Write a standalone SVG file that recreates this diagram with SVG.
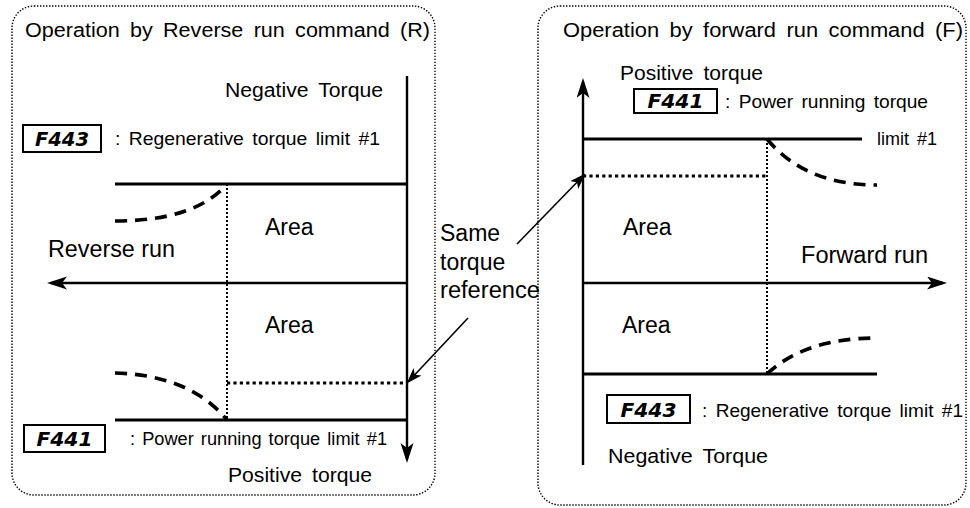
<svg xmlns="http://www.w3.org/2000/svg" width="970" height="508" viewBox="0 0 970 508">
<style>
text{font-family:"Liberation Sans",Arial,sans-serif;fill:#000}
.t19{font-size:20px;word-spacing:4px}
.t18{font-size:18.5px;word-spacing:3px}
.t17{font-size:18px;word-spacing:2px}
.t23{font-size:23px}
.code{font-family:"DejaVu Sans","Liberation Sans",sans-serif;font-size:20px;font-weight:bold;font-style:italic;text-anchor:middle}
.box{fill:#fff;stroke:#000;stroke-width:2}
.panel{fill:none;stroke:#000;stroke-width:1.4;stroke-dasharray:1.4 1.6}
.solid{stroke:#000;stroke-width:3.2;fill:none}
.axis{stroke:#000;stroke-width:2.4;fill:none}
.dash{stroke:#000;stroke-width:3.6;fill:none;stroke-dasharray:12 8}
.dot{stroke:#000;stroke-width:2;fill:none;stroke-dasharray:2 2}
.dotb{stroke:#000;stroke-width:3.2;fill:none;stroke-dasharray:3.2 3.2}
.thin{stroke:#000;stroke-width:1.6;fill:none}
</style>
<defs>
<marker id="ah" markerUnits="userSpaceOnUse" markerWidth="22" markerHeight="14" refX="16" refY="6.5" orient="auto">
<path d="M0,0 L20,6.5 L0,13 L5,6.5 z" fill="#000"/>
</marker>
<marker id="as" markerUnits="userSpaceOnUse" markerWidth="18" markerHeight="12" refX="14" refY="5.5" orient="auto">
<path d="M0,0 L16,5.5 L0,11 L4,5.5 z" fill="#000"/>
</marker>
</defs>

<g id="panel-reverse">
<rect class="panel" x="12" y="6" width="423" height="489" rx="22"/>
<text class="t19" x="25" y="37" textLength="405" lengthAdjust="spacingAndGlyphs">Operation by Reverse run command (R)</text>
<text class="t19" x="225" y="97" textLength="158" lengthAdjust="spacingAndGlyphs">Negative Torque</text>
<rect class="box" x="23" y="125" width="78" height="27"/>
<text class="code" x="62" y="146" textLength="54" lengthAdjust="spacingAndGlyphs">F443</text>
<text class="t18" x="115" y="145" textLength="265" lengthAdjust="spacingAndGlyphs">: Regenerative torque limit #1</text>
<text class="t23" x="265" y="235">Area</text>
<text class="t23" x="48" y="257" textLength="127" lengthAdjust="spacingAndGlyphs">Reverse run</text>
<text class="t23" x="265" y="333">Area</text>
<rect class="box" x="24" y="425" width="81" height="27"/>
<text class="code" x="64.5" y="446" textLength="56" lengthAdjust="spacingAndGlyphs">F441</text>
<text class="t17" x="130" y="445" textLength="257" lengthAdjust="spacingAndGlyphs">: Power running torque limit #1</text>
<text class="t19" x="228" y="482" textLength="144" lengthAdjust="spacingAndGlyphs">Positive torque</text>
</g>

<g id="panel-forward">
<rect class="panel" x="538" y="6" width="428" height="499" rx="22"/>
<text class="t19" x="563" y="37" textLength="400" lengthAdjust="spacingAndGlyphs">Operation by forward run command (F)</text>
<text class="t19" x="620" y="80" textLength="143" lengthAdjust="spacingAndGlyphs">Positive torque</text>
<rect class="box" x="634" y="89" width="83" height="24"/>
<text class="code" x="675.5" y="108" textLength="56" lengthAdjust="spacingAndGlyphs">F441</text>
<text class="t18" x="725" y="108" textLength="203" lengthAdjust="spacingAndGlyphs">: Power running torque</text>
<text class="t18" x="877" y="145" textLength="60" lengthAdjust="spacingAndGlyphs">limit #1</text>
<text class="t23" x="623" y="235">Area</text>
<text class="t23" x="801" y="263" textLength="127" lengthAdjust="spacingAndGlyphs">Forward run</text>
<text class="t23" x="622" y="333">Area</text>
<rect class="box" x="607" y="395" width="83" height="28"/>
<text class="code" x="648.5" y="417" textLength="56" lengthAdjust="spacingAndGlyphs">F443</text>
<text class="t18" x="702" y="417" textLength="261" lengthAdjust="spacingAndGlyphs">: Regenerative torque limit #1</text>
<text class="t19" x="608" y="463" textLength="160" lengthAdjust="spacingAndGlyphs">Negative Torque</text>
</g>

<g id="label-same">
<text class="t23" x="440" y="241">Same</text>
<text class="t23" x="440" y="270">torque</text>
<text class="t23" x="440" y="298" textLength="100" lengthAdjust="spacingAndGlyphs">reference</text>
</g>

<g id="connectors">
<line class="axis" x1="407" y1="76" x2="407" y2="459" marker-end="url(#ah)"/>
<line class="axis" x1="407" y1="283" x2="51" y2="283" marker-end="url(#ah)"/>
<line class="solid" x1="115" y1="184" x2="407" y2="184"/>
<line class="solid" x1="115" y1="420" x2="407" y2="420"/>
<path class="dash" d="M115,221 Q195,221 227,184"/>
<path class="dash" d="M115,373 Q190,375 227,420"/>
<line class="dot" x1="227" y1="184" x2="227" y2="420"/>
<line class="dotb" x1="227" y1="383" x2="407" y2="383"/>
<line class="axis" x1="583" y1="465" x2="583" y2="82" marker-end="url(#ah)"/>
<line class="axis" x1="583" y1="283" x2="943" y2="283" marker-end="url(#ah)"/>
<line class="solid" x1="583" y1="139" x2="862" y2="139"/>
<line class="solid" x1="583" y1="374" x2="877" y2="374"/>
<path class="dash" d="M767,139 Q805,185 877,185"/>
<path class="dash" d="M767,374 Q805,338 877,338"/>
<line class="dot" x1="767" y1="139" x2="767" y2="374"/>
<line class="dotb" x1="583" y1="176" x2="767" y2="176"/>
<line class="thin" x1="517" y1="244" x2="584" y2="175" marker-end="url(#as)"/>
<line class="thin" x1="468" y1="318" x2="408" y2="382" marker-end="url(#as)"/>
</g>
</svg>
